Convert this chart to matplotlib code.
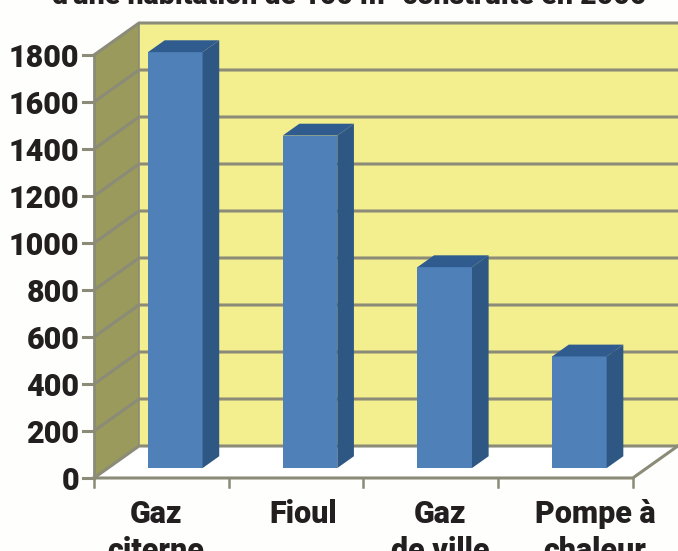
import matplotlib
matplotlib.use("Agg")
import matplotlib.pyplot as plt
from matplotlib.patches import Polygon

categories = [["Gaz", "citerne"], ["Fioul"], ["Gaz", "de ville"], ["Pompe à", "chaleur"]]
values = [1770, 1415, 855, 475]
y_ticks = [0, 200, 400, 600, 800, 1000, 1200, 1400, 1600, 1800]
title = "d'une habitation de 100 m² construite en 2000"

W, H = 678, 551
# pixel position of the front plane origin and scale of the axes
X0, Y0 = 94, 478
PX_CAT = 134.7
PX_VAL = 423 / 1800
# depth of the box, in data units
DX = 45 / PX_CAT
DY = 32 / PX_VAL
BAR_W = 0.405
GRID = "#8b8b78"

plt.rcParams["font.family"] = ["Roboto", "DejaVu Sans"]
plt.rcParams["font.weight"] = "black"

fig = plt.figure(figsize=(W / 100, H / 100), dpi=100, facecolor="#fefefd")
ax = fig.add_axes([0, 0, 1, 1])
ax.set_xlim(-X0 / PX_CAT, (W - X0) / PX_CAT)
ax.set_ylim((Y0 - H) / PX_VAL, Y0 / PX_VAL)
ax.axis("off")

n = len(categories)
top = y_ticks[-1]


def poly(pts, color, z):
    ax.add_patch(Polygon(pts, closed=True, facecolor=color, edgecolor="none", zorder=z))


# walls and floor
poly([(DX, DY), (n + DX + 1, DY), (n + DX + 1, top + DY), (DX, top + DY)], "#f3ee8e", 1)
poly([(0, 0), (DX, DY), (DX, top + DY), (0, top)], "#999a5c", 1)
poly([(0, 0), (n, 0), (n + DX, DY), (DX, DY)], "#ffffff", 1)

# gridlines, on the left wall then the back wall
for t in y_ticks:
    ax.plot([0, DX, n + DX + 1], [t, t + DY, t + DY], color=GRID, lw=2.2, zorder=2,
            solid_joinstyle="miter")
    ax.plot([-0.08, 0], [t, t], color=GRID, lw=2.2, zorder=2)

# box edges
ax.plot([0, 0], [0, top], color=GRID, lw=2, zorder=2)
ax.plot([DX, DX], [0 + DY, top + DY], color=GRID, lw=1.2, zorder=2)
ax.plot([0, n, n + DX], [0, 0, DY], color=GRID, lw=2.2, zorder=2)
for i in range(n + 1):
    ax.plot([i, i], [0, -38], color=GRID, lw=1.8, zorder=2)

# bars
front_dx, front_dy = DX * 0.31, DY * 0.31
side_dx, side_dy = DX * 0.37, DY * 0.37
for i, v in enumerate(values):
    x1 = i + 0.5 - BAR_W / 2 + front_dx
    x2 = x1 + BAR_W
    b = front_dy
    t = b + v
    poly([(x1, b), (x2, b), (x2, t), (x1, t)], "#4f80b8", 3)
    poly([(x2, b), (x2 + side_dx, b + side_dy), (x2 + side_dx, t + side_dy), (x2, t)], "#2f5783", 3)
    poly([(x1, t), (x2, t), (x2 + side_dx, t + side_dy), (x1 + side_dx, t + side_dy)], "#2f5b8e", 3)

# tick labels
for t in y_ticks:
    ax.text(-0.11, t, str(t), ha="right", va="center_baseline", fontsize=22, color="#231f20", zorder=5)

# label centres, in category units
label_x = [0.46, 1.55, 2.57, 3.72]
for lx, lines in zip(label_x, categories):
    for j, line in enumerate(lines):
        ax.text(lx, -45 / PX_VAL - j * 37 / PX_VAL, line, ha="center", va="baseline",
                fontsize=22, color="#231f20", zorder=5)

ax.text((349 - X0) / PX_CAT, (Y0 - 4) / PX_VAL, title, ha="center", va="baseline",
        fontsize=20.5, color="#231f20", zorder=5)

fig.savefig("out.png", dpi=100, facecolor=fig.get_facecolor())
